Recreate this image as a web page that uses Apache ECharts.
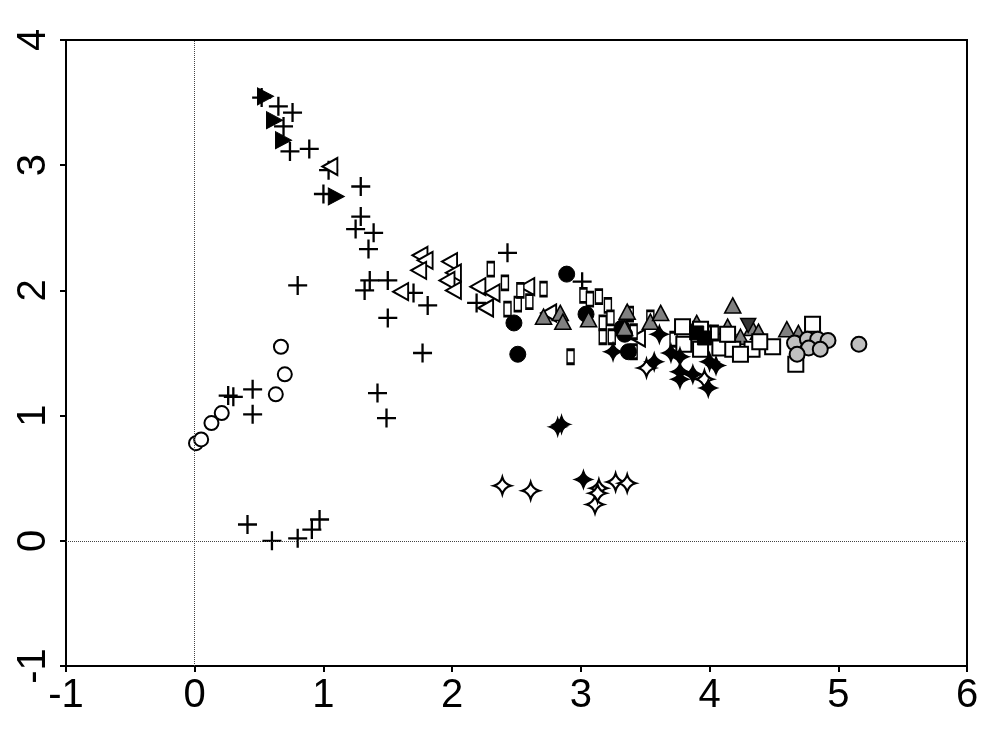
<!DOCTYPE html>
<html>
<head>
<meta charset="utf-8">
<script src="https://cdn.jsdelivr.net/npm/echarts@6/dist/echarts.min.js"></script>
<style>
  html, body { margin: 0; padding: 0; background: #fff; }
  #main { width: 1005px; height: 738px; }
</style>
</head>
<body>
<div id="main"></div>
<script>
// axis ticks
var xTicks = [-1, 0, 1, 2, 3, 4, 5, 6];
var yTicks = [-1, 0, 1, 2, 3, 4];

// groups, [x, y]
var plusPts = [
  [0.52, 3.54], [0.65, 3.47], [0.76, 3.42], [0.69, 3.31], [0.74, 3.11], [0.89, 3.13],
  [1.04, 2.96], [1.00, 2.77], [1.29, 2.83], [1.29, 2.59], [1.25, 2.49], [1.39, 2.46],
  [1.35, 2.33], [0.80, 2.04], [1.36, 2.08], [1.50, 2.08], [1.32, 2.00], [1.70, 1.98],
  [1.50, 1.78], [1.81, 1.88], [1.42, 1.18], [1.49, 0.98], [1.77, 1.50], [0.26, 1.16],
  [0.30, 1.15], [0.45, 1.21], [0.45, 1.01], [2.43, 2.30], [3.01, 2.07], [2.19, 1.90],
  [0.41, 0.13], [0.60, 0.00], [0.80, 0.02], [0.91, 0.09], [0.97, 0.17]
];
var rightTriPts = [[0.55, 3.55], [0.62, 3.36], [0.69, 3.20], [1.10, 2.75]];
var leftTriPts = [
  [1.05, 2.99], [1.75, 2.28], [1.79, 2.24], [1.74, 2.16], [1.60, 1.99], [1.98, 2.23],
  [2.01, 2.14], [1.96, 2.08], [2.01, 2.00], [2.20, 2.03], [2.31, 1.98], [2.26, 1.86],
  [2.58, 2.03], [2.75, 1.82], [3.44, 1.62]
];
var barPts = [
  [2.30, 2.17], [2.41, 2.06], [2.71, 2.01], [2.43, 1.85], [2.51, 1.89], [2.60, 1.91],
  [2.53, 2.00], [2.92, 1.47], [3.02, 1.96], [3.07, 1.93], [3.14, 1.95], [3.21, 1.88],
  [3.17, 1.74], [3.23, 1.78], [3.17, 1.63], [3.24, 1.63], [3.38, 1.81], [3.41, 1.67],
  [3.41, 1.51], [3.54, 1.78], [3.98, 1.66], [4.04, 1.66], [3.72, 1.61]
];
var blackDotPts = [[2.89, 2.13], [2.48, 1.74], [2.51, 1.49], [3.04, 1.81], [3.34, 1.65], [3.37, 1.51], [3.32, 1.70]];
var blackSqPts = [[3.90, 1.66], [3.96, 1.62]];
var downTriPts = [[4.30, 1.72]];
var grayTriPts = [
  [2.71, 1.79], [2.84, 1.82], [2.86, 1.75], [3.06, 1.77], [3.36, 1.83], [3.34, 1.70],
  [3.54, 1.75], [3.62, 1.82], [3.90, 1.74], [4.14, 1.71], [4.18, 1.88], [4.24, 1.63],
  [4.33, 1.70], [4.38, 1.67], [4.60, 1.69], [4.69, 1.66]
];
var squarePts = [
  [3.79, 1.71], [3.80, 1.57], [3.93, 1.53], [4.08, 1.54], [4.18, 1.53], [4.33, 1.53],
  [4.49, 1.55], [4.39, 1.59], [4.14, 1.65], [4.80, 1.73], [4.67, 1.41], [4.24, 1.49],
  [3.93, 1.69], [4.74, 1.57]
];
var grayDotPts = [[4.66, 1.58], [4.76, 1.61], [4.84, 1.61], [4.92, 1.60], [4.77, 1.54], [4.86, 1.53], [4.68, 1.49], [5.16, 1.57]];
var ringPts = [[0.01, 0.78], [0.05, 0.81], [0.13, 0.94], [0.21, 1.02], [0.63, 1.17], [0.70, 1.33], [0.67, 1.55]];
var openStarPts = [[2.39, 0.44], [2.61, 0.40], [3.14, 0.42], [3.11, 0.29], [3.27, 0.47], [3.36, 0.46], [3.13, 0.38], [3.51, 1.38], [3.96, 1.29]];
var blackStarPts = [
  [2.82, 0.91], [2.85, 0.93], [3.02, 0.49], [3.25, 1.51], [3.57, 1.43], [3.61, 1.65],
  [3.70, 1.50], [3.77, 1.47], [3.77, 1.35], [3.77, 1.29], [3.87, 1.33], [4.00, 1.43],
  [3.99, 1.22], [4.05, 1.40]
];

var PLUS = 'path://M0,10L20,10M10,0L10,20';
var RTRI = 'path://M0,0L18,10L0,20Z';
var LTRI = 'path://M18,0L0,10L18,20Z';
var DTRI = 'path://M0,0L20,0L10,18Z';
var STAR = 'path://M10,0Q12.2,7.8 20,10Q12.2,12.2 10,20Q7.8,12.2 0,10Q7.8,7.8 10,0Z';

function grp(name, data, symbol, size, fill, bw) {
  return {
    name: name,
    type: 'scatter',
    data: data,
    symbol: symbol,
    symbolSize: size,
    itemStyle: { color: fill, borderColor: '#000', borderWidth: bw, opacity: 1 }
  };
}

var series = [
  grp('plus', plusPts, PLUS, 19, 'none', 2.3),
  grp('ring', ringPts, 'circle', 14, '#fff', 2),
  grp('rtri', rightTriPts, RTRI, [16, 17], '#000', 1),
  grp('ltri', leftTriPts, LTRI, [15, 17], '#fff', 2),
  grp('bar', barPts, 'rect', [7, 14], '#fff', 2),
  grp('dot', blackDotPts, 'circle', 16, '#000', 1),
  grp('gtri', grayTriPts, 'triangle', [16, 15], '#808080', 1.6),
  grp('sq', squarePts, 'rect', 15, '#fff', 2),
  grp('bsq', blackSqPts, 'rect', 14, '#000', 1),
  grp('dtri', downTriPts, DTRI, [15, 14], '#333', 1.5),
  grp('gdot', grayDotPts, 'circle', 15, '#c0c0c0', 2),
  grp('ostar', openStarPts, STAR, 17, '#fff', 2.2),
  grp('bstar', blackStarPts, STAR, 17, '#000', 1.5)
];

// dotted zero lines
series[0].markLine = {
  silent: true,
  symbol: 'none',
  label: { show: false },
  lineStyle: { type: 'dotted', color: '#444', width: 1 },
  data: [{ xAxis: 0 }, { yAxis: 0 }]
};

var chart = echarts.init(document.getElementById('main'));
chart.setOption({
  animation: false,
  backgroundColor: '#fff',
  grid: {
    left: 66, right: 38, top: 40, bottom: 72,
    show: true, borderColor: '#000', borderWidth: 2, backgroundColor: 'transparent'
  },
  xAxis: {
    type: 'value',
    min: xTicks[0], max: xTicks[xTicks.length - 1], interval: 1,
    axisLine: { onZero: false, lineStyle: { color: '#000', width: 2 } },
    axisTick: { inside: false, length: 6, lineStyle: { color: '#000', width: 2 } },
    axisLabel: { color: '#000', fontSize: 40, fontFamily: 'Liberation Sans, Arial', margin: 10 },
    splitLine: { show: false }
  },
  yAxis: {
    type: 'value',
    min: yTicks[0], max: yTicks[yTicks.length - 1], interval: 1,
    axisLine: { onZero: false, lineStyle: { color: '#000', width: 2 } },
    axisTick: { inside: false, length: 6, lineStyle: { color: '#000', width: 2 } },
    axisLabel: { color: '#000', fontSize: 40, fontFamily: 'Liberation Sans, Arial', margin: 12, rotate: 90 },
    splitLine: { show: false }
  },
  series: series
});
</script>
</body>
</html>
